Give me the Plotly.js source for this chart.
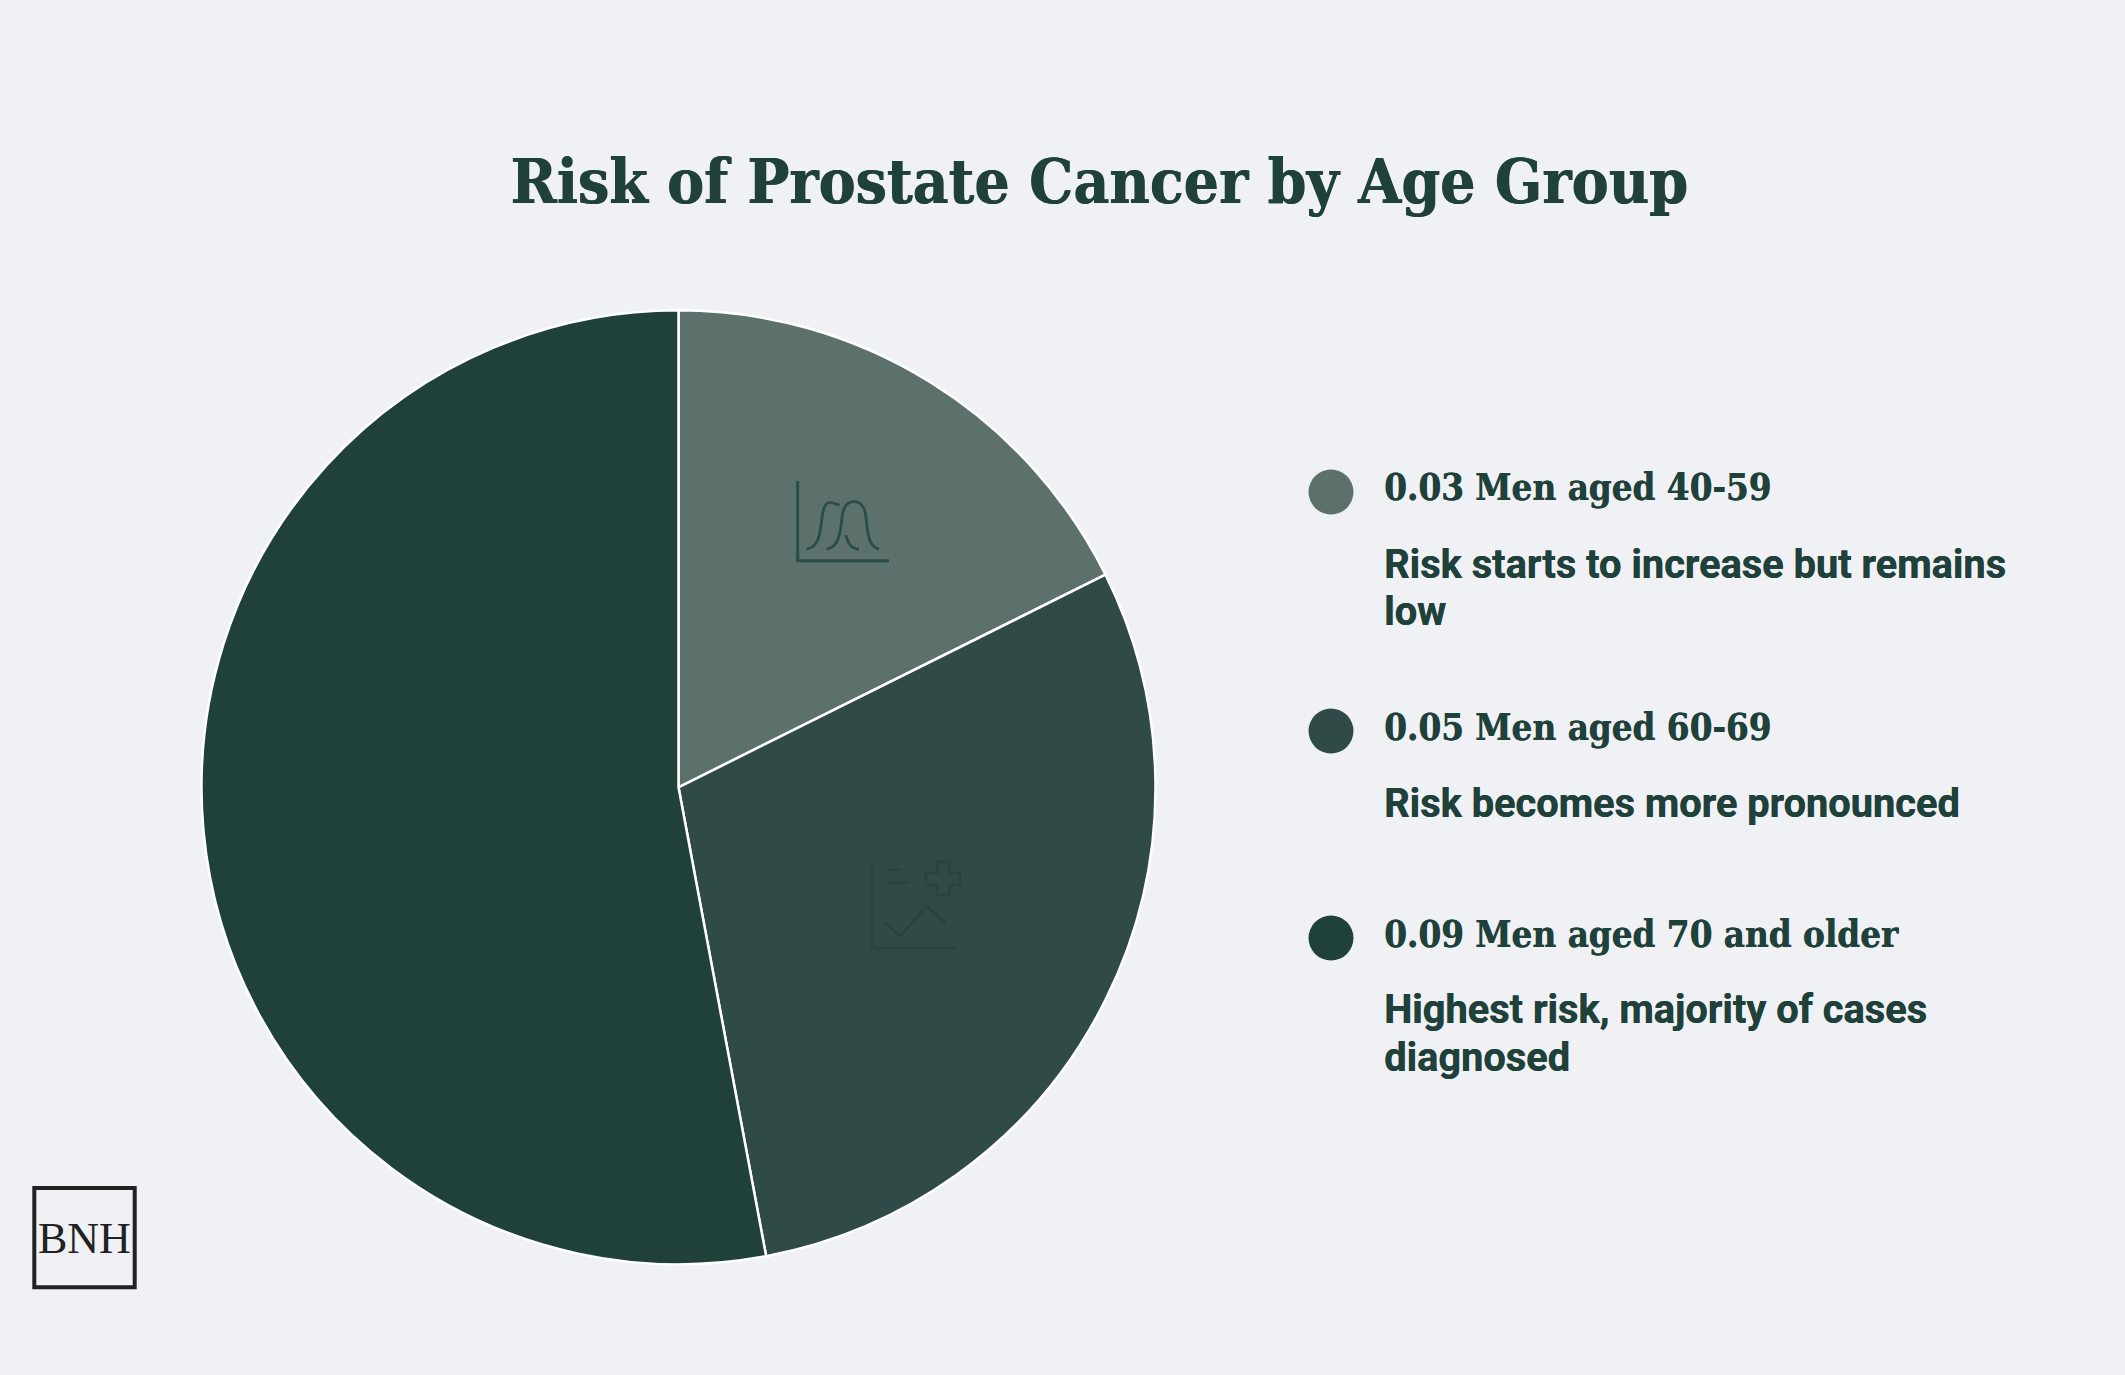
<!DOCTYPE html>
<html>
<head>
<meta charset="utf-8">
<script src="https://cdn.plot.ly/plotly-3.0.1.min.js"></script>
<style>html,body{margin:0;padding:0;background:#EFF1F5}#chart{width:2125px;height:1375px}</style>
</head>
<body>
<div id="chart"></div>
<script>
const chartTitle = "Risk of Prostate Cancer by Age Group";
const categories = ["Men aged 40-59", "Men aged 60-69", "Men aged 70 and older"];
const values = [0.03, 0.05, 0.09];
const sliceColors = ["#5D716C", "#304A47", "#20403A"];
const descriptions = [
  ["Risk starts to increase but remains", "low"],
  ["Risk becomes more pronounced"],
  ["Highest risk, majority of cases", "diagnosed"]
];
const legendDotY = [492, 731, 938];
const W = 2125, H = 1375;
const INK = "#20403A", BG = "#EFF1F5";
const SLAB = "'DejaVu Serif Condensed','DejaVu Serif',serif";
const px = x => x / W, py = y => 1 - y / H;
const pt = p => px(p[0]) + "," + py(p[1]);
const path = (pts, close) => pts.map((p, i) => (i ? "L" : "M") + pt(p)).join(" ") + (close ? " Z" : "");
const cubic = (a, segs) => "M" + pt(a) + " " + segs.map(s => "C" + pt(s.slice(0, 2)) + " " + pt(s.slice(2, 4)) + " " + pt(s.slice(4, 6))).join(" ");
const stroke = (d, color, width) => ({type: "path", xref: "paper", yref: "paper", path: d, line: {color, width}, layer: "above"});

const shapes = [], annotations = [];

// legend markers and text
categories.forEach((c, i) => {
  const y = legendDotY[i], r = 22.5;
  shapes.push({type: "circle", xref: "paper", yref: "paper", x0: px(1331 - r), x1: px(1331 + r), y0: py(y + r), y1: py(y - r),
    fillcolor: sliceColors[i], line: {width: 0}});
  annotations.push({xref: "paper", yref: "paper", x: px(1382), y: py(y - 4), xanchor: "left", yanchor: "middle", showarrow: false,
    text: "<b>" + values[i].toFixed(2) + " " + c + "</b>", font: {family: SLAB, size: 36.4, color: INK, shadow: "0.5px 0 0 " + INK}});
  descriptions[i].forEach((line, j) => {
    annotations.push({xref: "paper", yref: "paper", x: px(1382), y: py(y + 72 + j * 47.5), xanchor: "left", yanchor: "middle", showarrow: false,
      text: "<b>" + line + "</b>", font: {family: "Roboto", size: 39.75, color: INK, shadow: "0.4px 0 0 " + INK}});
  });
});

// icon: overlapping bell curves
const c1 = "#2A4D47";
shapes.push(stroke(path([[797.7, 481], [797.7, 560.7], [889, 560.7]]), c1, 3));
shapes.push(stroke(cubic([806.7, 549], [[822, 547, 820, 525, 823, 512], [826, 498, 832, 503, 839.5, 505]]), c1, 2.8));
shapes.push(stroke(cubic([826.7, 549], [[842, 547, 840, 525, 843, 512], [846, 498, 862, 498, 865, 512], [868, 525, 866, 547, 879, 549]]), c1, 2.8));
shapes.push(stroke(cubic([846, 535], [[848, 545, 853, 549, 859, 549]]), c1, 2.8));

// icon: medical chart
const c2 = "#28443F";
const ox = 840, oy = 830, z = v => [ox + v[0] / 3, oy + v[1] / 3];
shapes.push(stroke(path([[97, 98], [97, 355], [353, 355]].map(z)), c2, 2.5));
shapes.push(stroke(path([[142, 120], [185, 120]].map(z)), c2, 2.5));
shapes.push(stroke(path([[142, 158], [205, 158]].map(z)), c2, 2.5));
shapes.push(stroke(path([[292, 96], [328, 96], [328, 128], [360, 128], [360, 165], [328, 165], [328, 196], [292, 196], [292, 165], [258, 165], [258, 128], [292, 128]].map(z), true), c2, 2.5));
shapes.push(stroke(path([[135, 280], [182, 318], [260, 228], [320, 282]].map(z)), c2, 2.5));

// logo
shapes.push({type: "rect", xref: "paper", yref: "paper", x0: px(34.3), x1: px(134.7), y0: py(1287.3), y1: py(1188),
  line: {color: "#222222", width: 4}});
annotations.push({xref: "paper", yref: "paper", x: px(84.5), y: py(1238), xanchor: "center", yanchor: "middle", showarrow: false,
  text: "BNH", font: {family: "'Liberation Serif',serif", size: 44, color: "#222222"}});

const cx = 678.5, cy = 787.3, R = 477;
const data = [{
  type: "pie",
  labels: categories,
  values: values,
  sort: false,
  direction: "clockwise",
  rotation: 0,
  textinfo: "none",
  hoverinfo: "label+value",
  marker: {colors: sliceColors, line: {color: "#FFFFFF", width: 2.5}},
  domain: {x: [px(cx - R), px(cx + R)], y: [py(cy + R), py(cy - R)]}
}];

const layout = {
  width: W, height: H,
  margin: {l: 0, r: 0, t: 0, b: 0},
  paper_bgcolor: BG, plot_bgcolor: BG,
  showlegend: false,
  title: {text: "<b>" + chartTitle + "</b>", x: 1099 / W, xanchor: "center", y: py(181), yanchor: "middle",
    font: {family: SLAB, size: 61.8, color: INK, shadow: "0.8px 0 0 " + INK}},
  shapes, annotations
};
Plotly.newPlot("chart", data, layout, {displayModeBar: false, responsive: false});
</script>
</body>
</html>
